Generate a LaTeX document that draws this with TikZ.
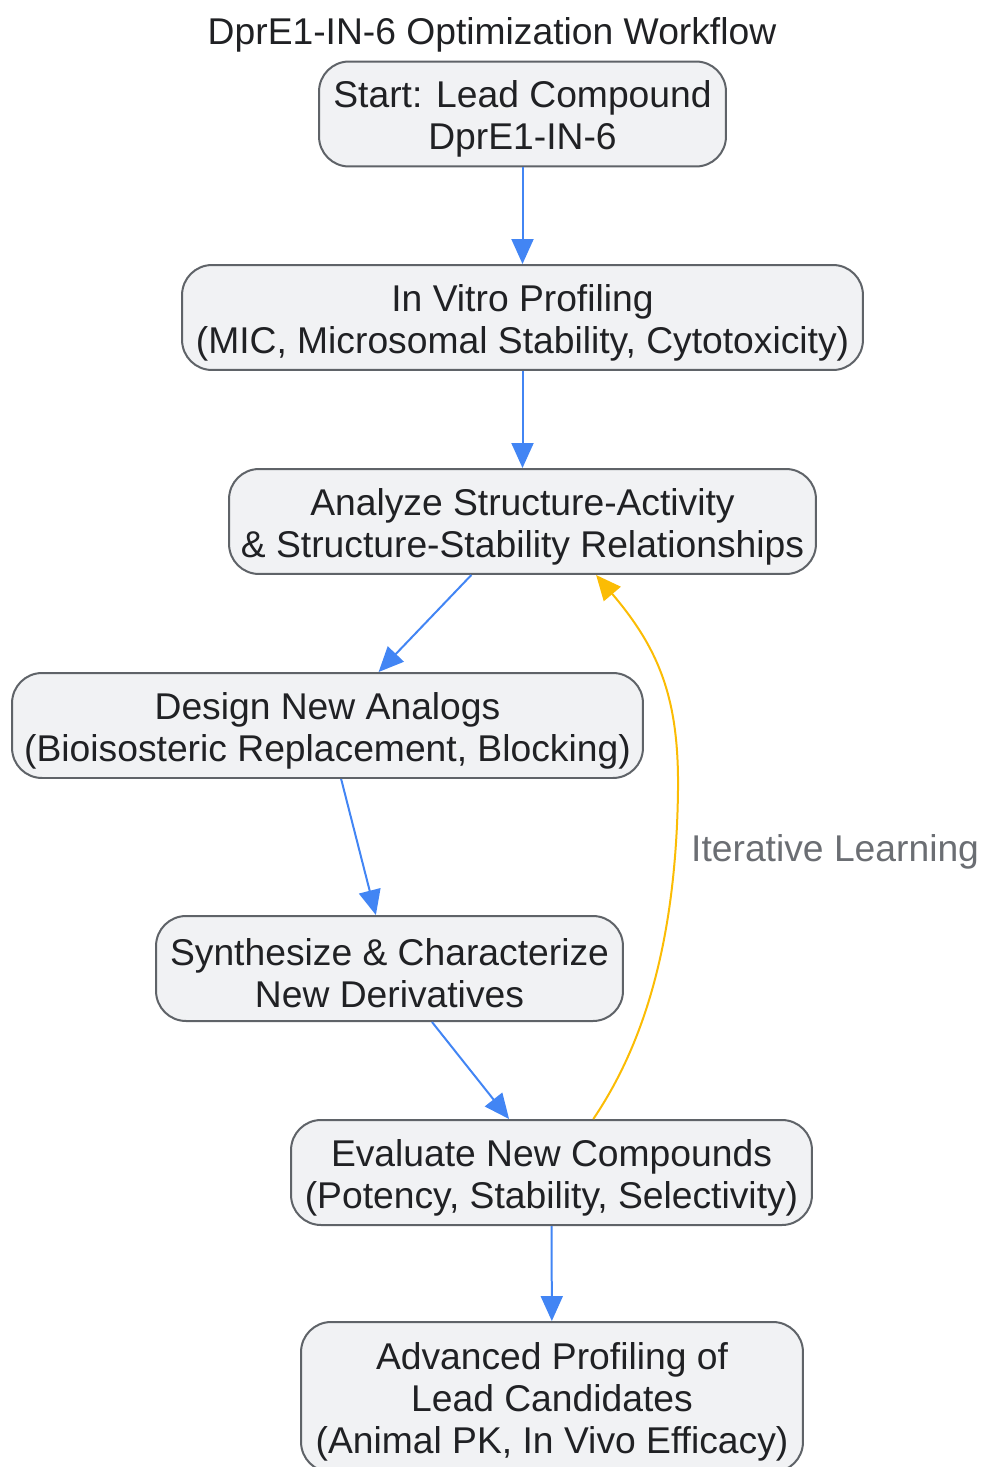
\documentclass[tikz,border=0pt]{standalone}
\usepackage{fontspec}
\setmainfont{Liberation Sans}
\usetikzlibrary{arrows.meta}

\definecolor{boxfill}{HTML}{F1F2F4}
\definecolor{boxline}{HTML}{5F6368}
\definecolor{flowblue}{HTML}{4285F4}
\definecolor{loopgold}{HTML}{FBBC04}
\definecolor{txtdark}{HTML}{202124}
\definecolor{txtgray}{HTML}{6B6E73}

\newcommand{\lowstrut}{\rule{0pt}{21pt}}

\begin{document}
\begin{tikzpicture}
	[x=0.02cm, y=-0.02cm,
	font=\fontsize{21.2}{24}\selectfont,
	stage/.style={draw=boxline, fill=boxfill, line width=0.04cm, rounded corners=0.6cm, minimum height=2.1cm, inner sep=0pt, align=center, text=txtdark},
	flow/.style={flowblue, line width=0.04cm, -{Triangle[length=0.5cm, width=0.44cm]}},
	loop/.style={loopgold, line width=0.04cm, -{Triangle[length=0.5cm, width=0.44cm]}}];

	\useasboundingbox (0,0) rectangle (981,1467);

	%Centres
	\coordinate (c1) at (522.5,114);
	\coordinate (c2) at (522.5,317.5);
	\coordinate (c3) at (522.5,521.5);
	\coordinate (c4) at (327.5,725.5);
	\coordinate (c5) at (389.5,968.5);
	\coordinate (c6) at (551.5,1172.5);
	\coordinate (c7) at (552,1397);

	%Title
	\node[text=txtdark] (title) at (492,35) {DprE1-IN-6 Optimization Workflow};

	%Stages
	\node[stage, minimum width=8.14cm] (start) at (c1) {\lowstrut Start: Lead Compound\\DprE1-IN-6};
	\node[stage, minimum width=13.62cm] (vitro) at (c2) {\lowstrut In Vitro Profiling\\(MIC, Microsomal Stability, Cytotoxicity)};
	\node[stage, minimum width=11.74cm] (sar) at (c3) {\lowstrut Analyze Structure-Activity\\\& Structure-Stability Relationships};
	\node[stage, minimum width=12.62cm] (design) at (c4) {\lowstrut Design New Analogs\\(Bioisosteric Replacement, Blocking)};
	\node[stage, minimum width=9.34cm] (synth) at (c5) {\lowstrut Synthesize \& Characterize\\New Derivatives};
	\node[stage, minimum width=10.42cm] (evaluate) at (c6) {\lowstrut Evaluate New Compounds\\(Potency, Stability, Selectivity)};
	\node[stage, minimum width=10.04cm, minimum height=3.0cm] (advanced) at (c7) {\lowstrut Advanced Profiling of\\Lead Candidates\\(Animal PK, In Vivo Efficacy)};

	%Flow
	\draw[flow] (start) -- (vitro);
	\draw[flow] (vitro) -- (sar);
	\draw[flow] (sar) -- (design);
	\draw[flow] (design) -- (synth);
	\draw[flow] (synth) -- (evaluate);
	\draw[flow] (evaluate) -- (advanced);

	%Loop back
	\draw[loop] (evaluate.52) .. controls (640,1050) and (676,950) .. (678,790)
		.. controls (679,700) and (660,650) .. (sar.-36);
	\node[text=txtgray, anchor=west] (learn) at (685,852) {Iterative Learning};
\end{tikzpicture}
\end{document}
